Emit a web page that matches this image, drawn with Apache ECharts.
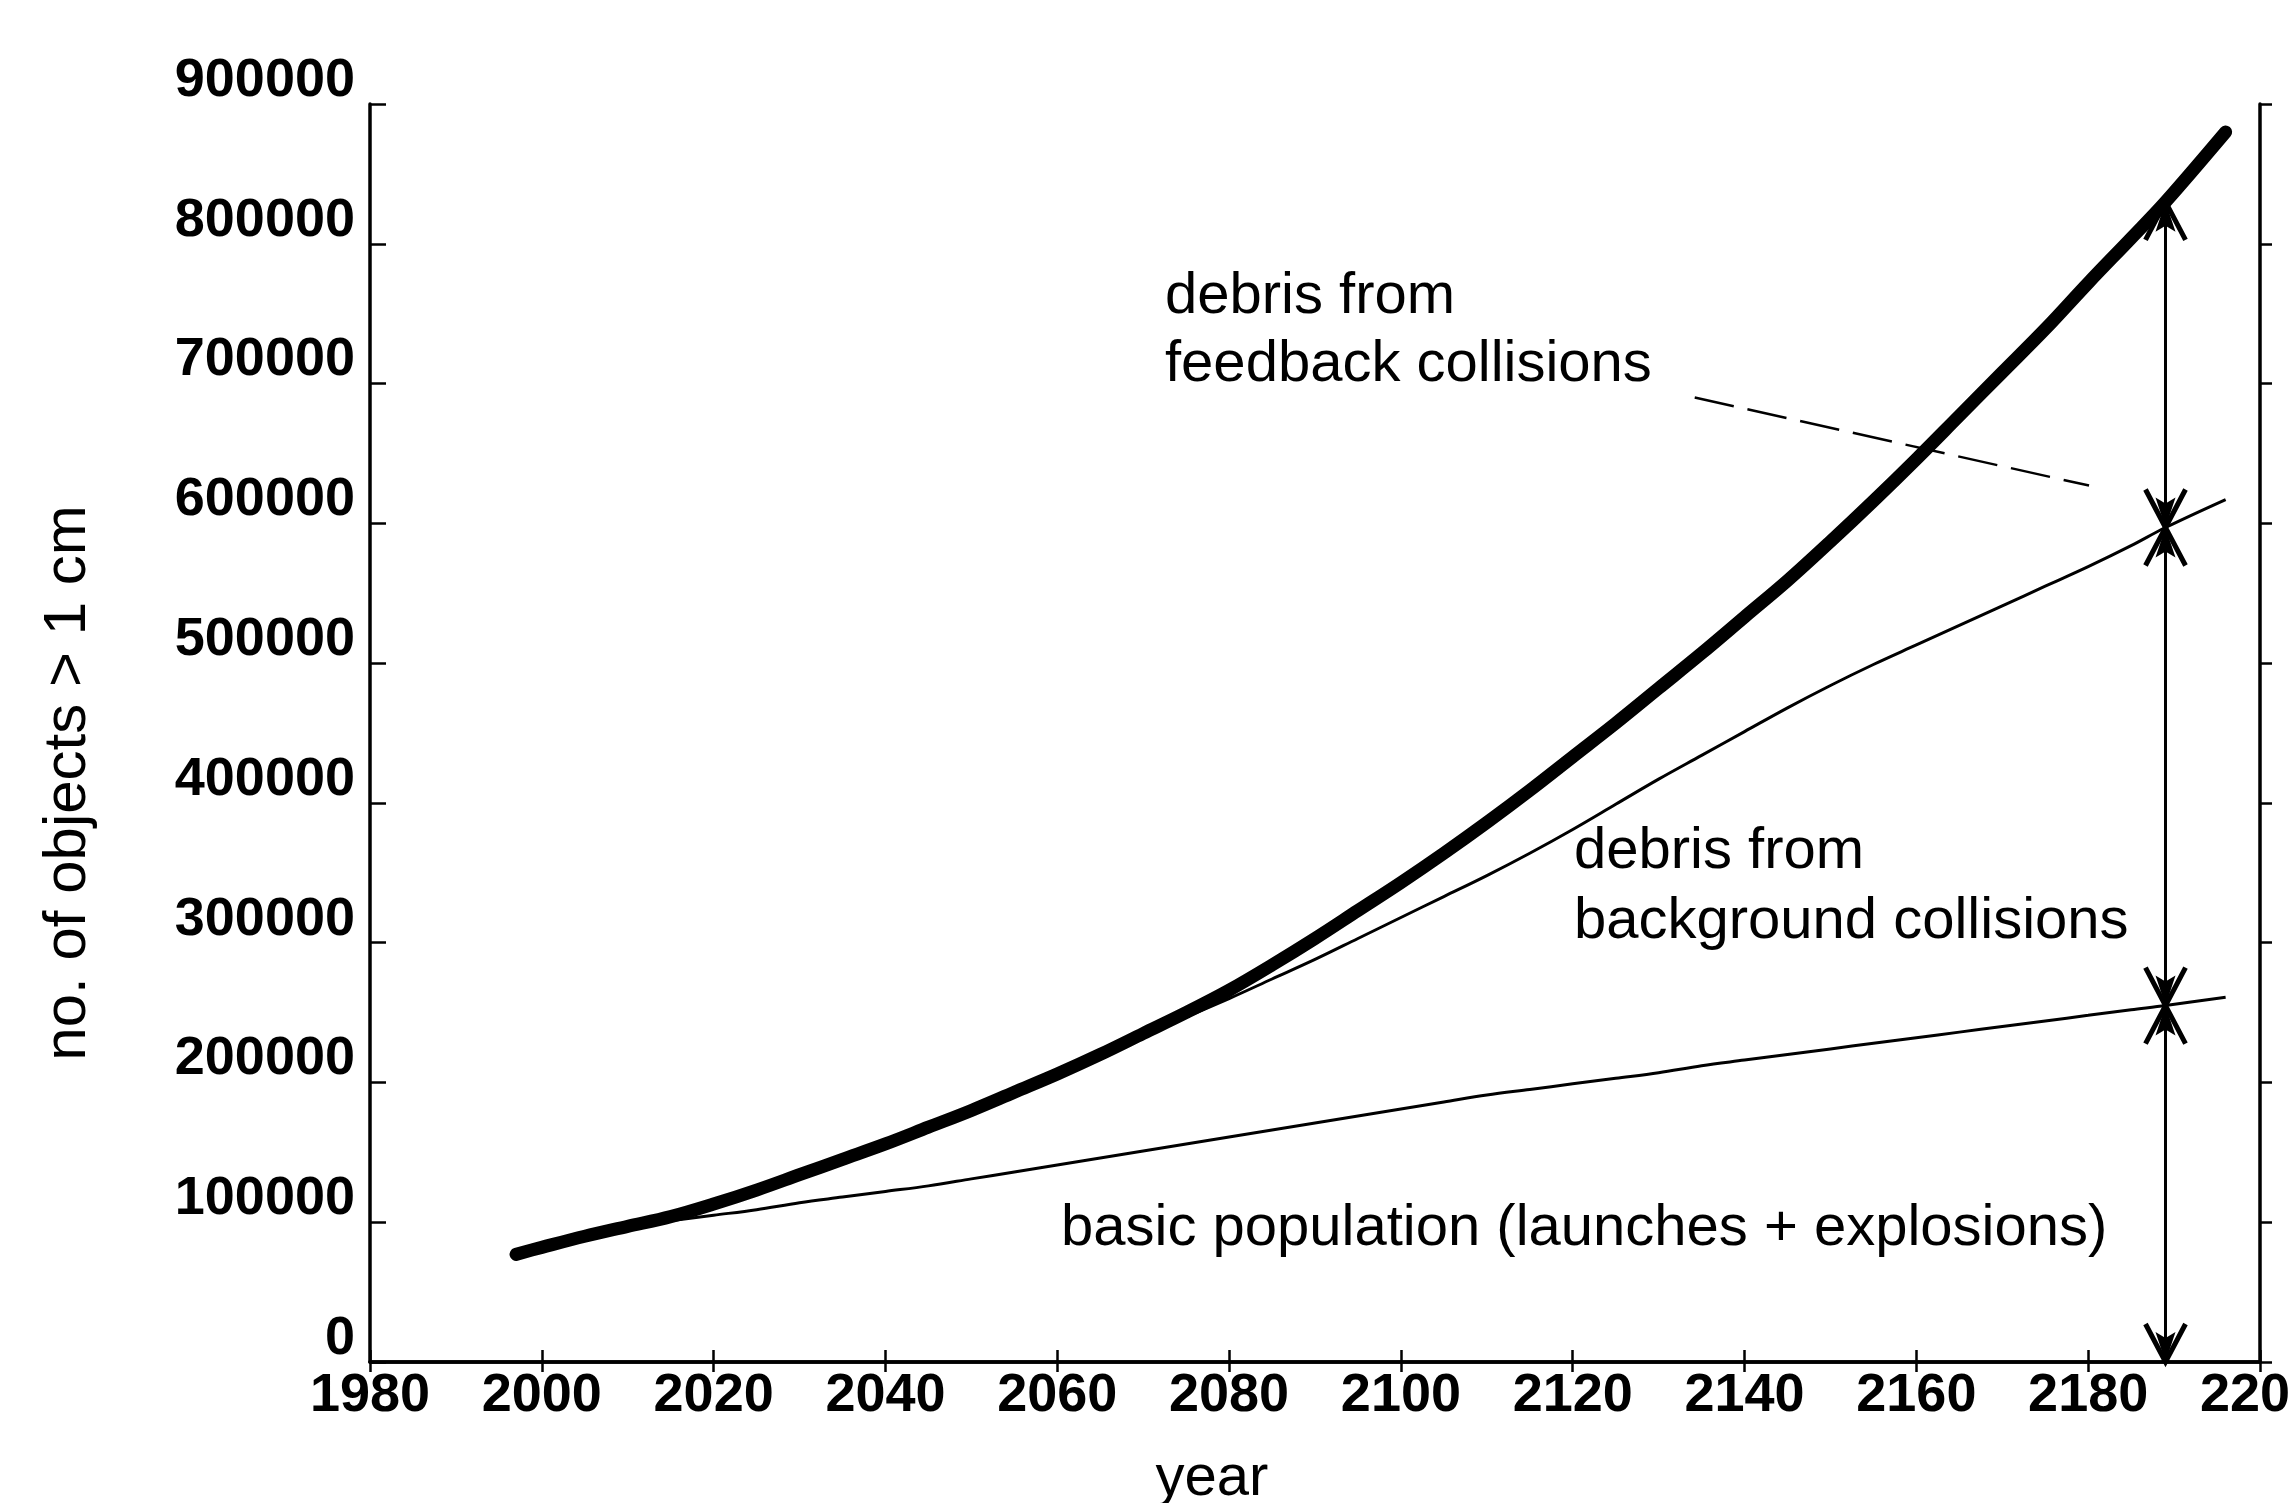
<!DOCTYPE html>
<html>
<head>
<meta charset="utf-8">
<script src="https://cdn.jsdelivr.net/npm/echarts@6/dist/echarts.min.js"></script>
<style>
html,body{margin:0;padding:0;background:#fff;}
#chart{width:2292px;height:1503px;}
</style>
</head>
<body>
<div id="chart"></div>
<script>
// ---- data ----
const years = [1997, 2000, 2005, 2010, 2015, 2020, 2025, 2030, 2035, 2040, 2045, 2050, 2055, 2060, 2065, 2070,
  2075, 2080, 2085, 2090, 2095, 2100, 2105, 2110, 2115, 2120, 2125, 2130, 2135, 2140, 2145, 2150,
  2155, 2160, 2165, 2170, 2175, 2180, 2185, 2189, 2196];

// total (thick curve, incl. debris from feedback collisions)
const totalVals = [77000, 82000, 90000, 97000, 104000, 113000, 123000, 134000, 145000, 156000, 168000, 180000,
  193000, 206000, 220000, 235000, 250000, 266000, 284000, 303000, 323000, 343000, 364000, 386000, 409000,
  433000, 457000, 482000, 507000, 533000, 559000, 587000, 616000, 646000, 677000, 708000, 739000, 772000,
  804000, 830000, 880000];

// basic population + debris from background collisions
const backgroundVals = [77000, 82000, 90000, 97000, 104000, 113000, 123000, 134000, 145000, 156000, 168000, 180000,
  193000, 206000, 220000, 235000, 247000, 260000, 274000, 288000, 303000, 318000, 333000, 348000, 364000,
  381000, 399000, 417000, 434000, 451000, 468000, 484000, 499000, 513000, 527000, 541000, 555000, 569000,
  584000, 597000, 617000];

// basic population (launches + explosions)
const basicVals = [77000, 82000, 90000, 97000, 101000, 105000, 109000, 114000, 118000, 122000, 126000, 131000,
  136000, 141000, 146000, 151000, 156000, 161000, 166000, 171000, 176000, 181000, 186000, 191000, 195000,
  199000, 203000, 207000, 212000, 216000, 220000, 224000, 228000, 232000, 236000, 240000, 244000, 248000,
  252000, 255000, 261000];

const xTicks = { min: 1980, max: 2200, interval: 20 };
const yTicks = { min: 0, max: 900000, interval: 100000 };

const arrowYear = 2189;
// dashed pointer line for the "feedback collisions" label, in data coordinates
const leaderLine = [[2134.2, 690000], [2180.1, 627000]];

const labelTexts = {
  feedback: 'debris from\nfeedback collisions',
  background: 'debris from\nbackground collisions',
  basic: 'basic population (launches + explosions)'
};
const xName = 'year';
const yName = 'no. of objects > 1 cm';

// ---- build chart ----
const pairs = vals => years.map((y, i) => [y, vals[i]]);
const ai = years.indexOf(arrowYear);
const arrowSegs = [
  [arrowYear, totalVals[ai], backgroundVals[ai]],
  [arrowYear, backgroundVals[ai], basicVals[ai]],
  [arrowYear, basicVals[ai], 0]
];

const FONT = '"Liberation Sans", Arial, Helvetica, sans-serif';
const chart = echarts.init(document.getElementById('chart'), null, { renderer: 'canvas' });

const axisLineStyle = { color: '#000', width: 3.5 };
const plain = v => String(v);

function arrowHead(tipX, tipY, dir) {
  // dir = -1 : pointing up, +1 : pointing down
  const a = 38, w = 20, core = 30, cw = 10;
  return [{
    type: 'polyline',
    shape: { points: [[tipX - w, tipY - dir * a], [tipX, tipY], [tipX + w, tipY - dir * a]] },
    style: { stroke: '#000', lineWidth: 5, fill: null, lineJoin: 'miter' }
  }, {
    type: 'polygon',
    shape: { points: [[tipX, tipY], [tipX - cw, tipY - dir * core], [tipX, tipY - dir * (core - 6)], [tipX + cw, tipY - dir * core]] },
    style: { fill: '#000' }
  }];
}

chart.setOption({
  backgroundColor: '#ffffff',
  animation: false,
  grid: { left: 370, right: 32, top: 104, bottom: 141, containLabel: false, outerBoundsMode: 'none' },
  xAxis: [{
    type: 'value', min: xTicks.min, max: xTicks.max, interval: xTicks.interval,
    name: xName, nameLocation: 'middle', nameGap: 88,
    nameTextStyle: { fontFamily: FONT, fontSize: 58, color: '#000', padding: [0, 206, 0, 0] },
    axisLine: { show: true, lineStyle: axisLineStyle },
    axisTick: { show: true, inside: true, length: 12, lineStyle: { color: '#000', width: 2.5 } },
    axisLabel: { fontFamily: FONT, fontSize: 54, fontWeight: 'bold', color: '#000', margin: 7,
      formatter: plain, showMinLabel: true, showMaxLabel: true },
    splitLine: { show: false }
  }, {
    type: 'value', position: 'top', min: xTicks.min, max: xTicks.max, interval: xTicks.interval,
    axisLine: { show: true, lineStyle: axisLineStyle },
    axisTick: { show: true, inside: true, length: 10, lineStyle: { color: '#000', width: 2.5 } },
    axisLabel: { show: false },
    splitLine: { show: false }
  }],
  yAxis: [{
    type: 'value', min: yTicks.min, max: yTicks.max, interval: yTicks.interval,
    name: yName, nameLocation: 'middle', nameGap: 272,
    nameTextStyle: { fontFamily: FONT, fontSize: 60, color: '#000', padding: [0, 100, 0, 0] },
    axisLine: { show: true, lineStyle: axisLineStyle },
    axisTick: { show: true, inside: true, length: 16, lineStyle: { color: '#000', width: 2.5 } },
    axisLabel: { fontFamily: FONT, fontSize: 54, fontWeight: 'bold', color: '#000', margin: 15,
      verticalAlign: 'bottom', lineHeight: 46, formatter: plain, showMinLabel: true, showMaxLabel: true },
    splitLine: { show: false }
  }, {
    type: 'value', position: 'right', min: yTicks.min, max: yTicks.max, interval: yTicks.interval,
    axisLine: { show: true, lineStyle: axisLineStyle },
    axisTick: { show: true, inside: false, length: 12, lineStyle: { color: '#000', width: 2.5 } },
    axisLabel: { show: false },
    splitLine: { show: false }
  }],
  series: [{
    name: 'basic population', type: 'line', data: pairs(basicVals), showSymbol: false, symbol: 'none',
    smooth: 0.35, z: 3,
    lineStyle: { color: '#000', width: 3 },
    markLine: {
      silent: true, animation: false,
      symbol: ['none', 'none'],
      label: { show: false },
      lineStyle: { color: '#000', width: 2.5, type: [40, 14] },
      data: [[{ coord: leaderLine[0] }, { coord: leaderLine[1] }]]
    }
  }, {
    name: 'background collisions', type: 'line', data: pairs(backgroundVals), showSymbol: false, symbol: 'none',
    smooth: 0.35, z: 4,
    lineStyle: { color: '#000', width: 3 }
  }, {
    name: 'total', type: 'line', data: pairs(totalVals), showSymbol: false, symbol: 'none',
    smooth: 0.35, z: 5,
    lineStyle: { color: '#000', width: 13, cap: 'round', join: 'round' }
  }, {
    name: 'arrows', type: 'custom', data: arrowSegs, z: 6, silent: true,
    renderItem: function (params, api) {
      const p1 = api.coord([api.value(0), api.value(1)]);
      const p2 = api.coord([api.value(0), api.value(2)]);
      const children = [{
        type: 'line', shape: { x1: p1[0], y1: p1[1], x2: p2[0], y2: p2[1] },
        style: { stroke: '#000', lineWidth: 3 }
      }];
      return { type: 'group', children: children.concat(arrowHead(p1[0], p1[1], -1), arrowHead(p2[0], p2[1], 1)) };
    }
  }],
  graphic: [{
    type: 'text', x: 1165, y: 331, z: 10,
    style: { text: labelTexts.feedback, font: '58px ' + FONT, fill: '#000', lineHeight: 68,
      textAlign: 'left', textVerticalAlign: 'middle' }
  }, {
    type: 'text', x: 1574, y: 887, z: 10,
    style: { text: labelTexts.background, font: '58px ' + FONT, fill: '#000', lineHeight: 70,
      textAlign: 'left', textVerticalAlign: 'middle' }
  }, {
    type: 'text', x: 1061, y: 1229, z: 10,
    style: { text: labelTexts.basic, font: '58px ' + FONT, fill: '#000',
      textAlign: 'left', textVerticalAlign: 'middle' }
  }]
});
</script>
</body>
</html>
